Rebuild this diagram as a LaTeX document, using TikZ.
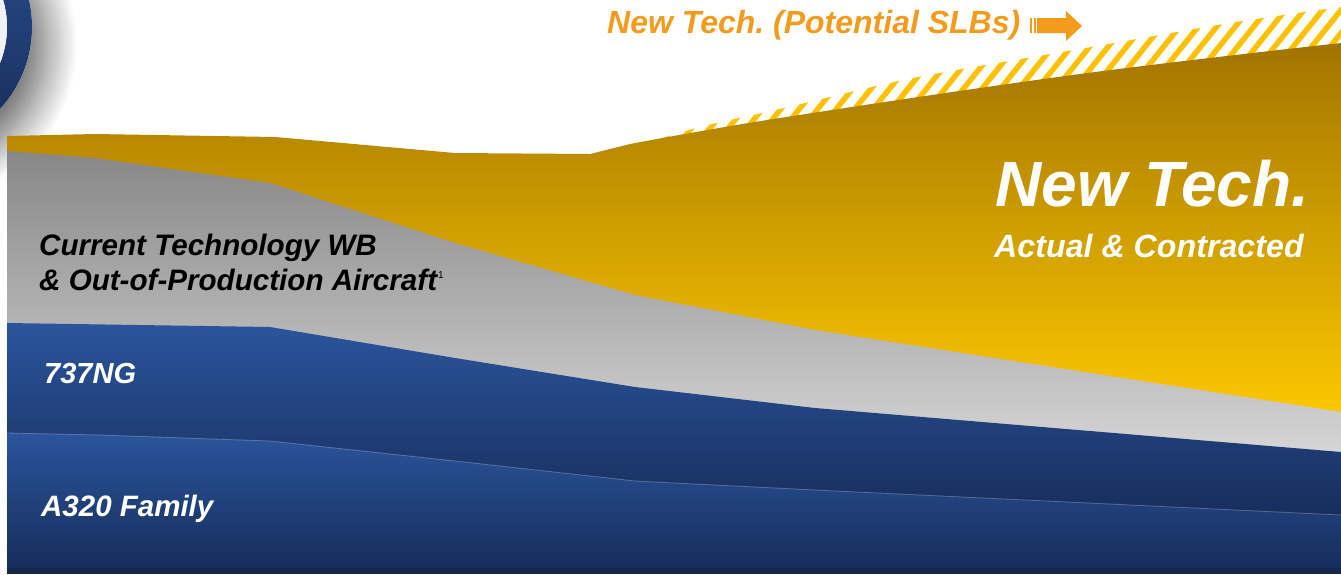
\documentclass[tikz,border=0pt]{standalone}
\usepackage{fontspec}
\setmainfont{Liberation Sans}
\usetikzlibrary{shadows.blur}
\frenchspacing
\definecolor{goldT}{HTML}{A27400}
\definecolor{goldM}{HTML}{DFA600}
\definecolor{goldB}{HTML}{FCC800}
\definecolor{grayT}{HTML}{878787}
\definecolor{grayM}{HTML}{BCBCBC}
\definecolor{grayB}{HTML}{D6D6D6}
\definecolor{blueT}{HTML}{2B559C}
\definecolor{blueB}{HTML}{172D5B}
\definecolor{blueD}{HTML}{15264B}
\definecolor{hatchc}{HTML}{FFC000}
\definecolor{orangec}{HTML}{F39B1C}
\definecolor{ringT}{HTML}{2C5192}
\definecolor{ringB}{HTML}{172C58}
\definecolor{ringIn}{HTML}{EEF1F5}
\tikzset{
  lbl/.style={inner sep=0pt, anchor=base west, font=\bfseries\itshape},
  hatchline/.style={hatchc, line width=5.5pt},
}
\begin{document}
\begin{tikzpicture}[x=1pt,y=-1pt]
\useasboundingbox (0,0) rectangle (1341,574);
\begin{scope}
\clip (0,0) rectangle (1341,574);
% ring with shadow
\fill[white, blur shadow={shadow xshift=12pt, shadow yshift=-18pt, shadow blur radius=34pt, shadow blur steps=40, shadow opacity=65}] (-89,27) circle[radius=121pt];
\shade[top color=ringT, bottom color=ringB, even odd rule] (-89,27) circle[radius=121pt] (-89,27) circle[radius=96pt];
\fill[ringIn] (-89,27) circle[radius=96pt];

% hatched potential area
\begin{scope}
\clip plot[smooth, tension=0.5] coordinates {(640,145) (700,127) (780,109) (913,78) (1080,49) (1230,23) (1341,7)} -- (1341,200) -- (635,200) -- cycle;
\foreach \i in {0,...,42} {
  \draw[hatchline] ({560+\i*18.5},200) -- ++(160,-200);
}
\end{scope}

% New tech (gold)
\shade[top color=goldT, middle color=goldM, bottom color=goldB]
  (7,136) -- (95,134) -- (275,137) -- (455,153) -- (590,154)
  -- plot[smooth, tension=0.6] coordinates {(630,144) (780,118) (1080,74) (1341,43)}
  -- (1341,415) -- (815,333) -- (635,298) -- (455,246) -- (270,186) -- (95,161) -- (7,154) -- cycle;

% current technology (gray)
\shade[top color=grayT, middle color=grayM, bottom color=grayB]
  (7,151) -- (95,158) -- (270,183) -- (455,243) -- (635,295) -- (815,330) -- (1341,412)
  -- (1341,455) -- (815,411) -- (635,390) -- (455,361) -- (270,330) -- (7,326) -- cycle;

% 737NG
\shade[top color=blueT, bottom color=blueB]
  (7,323) -- (270,327) -- (455,358) -- (635,387) -- (815,408) -- (1341,452)
  -- (1341,518) -- (815,493) -- (635,484) -- (455,464) -- (270,444) -- (100,438) -- (7,436) -- cycle;

% A320
\shade[top color=blueT, bottom color=blueB]
  (7,433) -- (100,435) -- (270,441) -- (455,461) -- (635,481) -- (815,490) -- (1341,515)
  -- (1341,569) -- (7,569) -- cycle;
\draw[white, opacity=0.25, line width=0.8pt]
  (7,433) -- (100,435) -- (270,441) -- (455,461) -- (635,481) -- (815,490) -- (1341,515);
\fill[blueD] (7,568) rectangle (1341,574);

% arrow
\fill[orangec] (1030,18) rectangle (1032,33);
\fill[orangec] (1033.5,18) rectangle (1035.5,33);
\fill[orangec] (1037,18) -- (1066,18) -- (1066,11) -- (1082,26) -- (1066,41) -- (1066,33) -- (1037,33) -- cycle;
\end{scope}

% labels
\node[lbl, text=orangec, font=\bfseries\itshape\fontsize{32}{36}\selectfont] (pot) at (607,33) {New Tech. (Potential SLBs)};
\node[lbl, text=white, font=\bfseries\itshape\fontsize{64}{70}\selectfont] (nt) at (995,206) {New Tech.};
\node[lbl, text=white, font=\bfseries\itshape\fontsize{32.2}{36}\selectfont] (ac) at (994,257) {Actual \& Contracted};
\node[lbl, text=black, font=\bfseries\itshape\fontsize{29.6}{33}\selectfont] (ct1) at (39,255) {Current Technology WB};
\node[lbl, text=black, font=\bfseries\itshape\fontsize{29.6}{33}\selectfont] (ct2) at (39,290) {\& Out-of-Production Aircraft};
\node[inner sep=0pt, anchor=base west, font=\fontsize{10}{11}\selectfont] (fn) at (ct2.base east) [yshift=12pt, xshift=0.5pt] {1};
\node[lbl, text=white, font=\bfseries\itshape\fontsize{29}{32}\selectfont] (ng) at (44,383) {737NG};
\node[lbl, text=white, font=\bfseries\itshape\fontsize{29.5}{32}\selectfont] (a320) at (41,516) {A320 Family};
\end{tikzpicture}
\end{document}
